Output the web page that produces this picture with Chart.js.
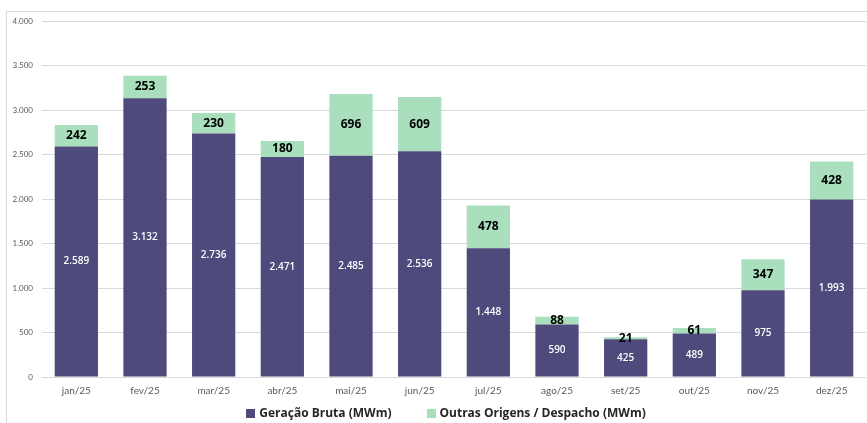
<!DOCTYPE html>
<html lang="pt-BR">
<head>
<meta charset="utf-8">
<title>Geração Bruta e Outras Origens</title>
<script src="https://cdn.jsdelivr.net/npm/chart.js@4.4.1/dist/chart.umd.min.js"></script>
<style>
  html, body { margin: 0; padding: 0; background: #fff; }
  #wrap { position: relative; width: 867px; height: 423px; }
</style>
</head>
<body>
<div id="wrap"><canvas id="chart" width="867" height="423"></canvas></div>
<script>
const months = ["jan/25", "fev/25", "mar/25", "abr/25", "mai/25", "jun/25",
                "jul/25", "ago/25", "set/25", "out/25", "nov/25", "dez/25"]
const geracaoBruta = [2589, 3132, 2736, 2471, 2485, 2536, 1448, 590, 425, 489, 975, 1993]
const outrasOrigens = [242, 253, 230, 180, 696, 609, 478, 88, 21, 61, 347, 428]
const yTicks = [0, 500, 1000, 1500, 2000, 2500, 3000, 3500, 4000]

const FONT = "Lato, 'Open Sans', sans-serif"
const BOLD_FONT = "'Open Sans', 'Noto Sans', sans-serif"

// 1234 -> "1.234"
function fmt(v) {
  return String(Math.round(v)).replace(/\B(?=(\d{3})+(?!\d))/g, ".")
}

// light frame around the chart
const framePlugin = {
  id: "frame",
  beforeDraw(chart) {
    const ctx = chart.ctx
    ctx.save()
    ctx.strokeStyle = "#d9d9d9"
    ctx.lineWidth = 1
    ctx.beginPath()
    ctx.moveTo(6.5, chart.height)
    ctx.lineTo(6.5, 11.5)
    ctx.lineTo(chart.width, 11.5)
    ctx.stroke()
    ctx.restore()
  }
}

// value labels centred on each stacked segment
const segmentLabels = {
  id: "segmentLabels",
  afterDatasetsDraw(chart) {
    const ctx = chart.ctx
    ctx.save()
    ctx.textAlign = "center"
    ctx.textBaseline = "middle"
    chart.data.datasets.forEach((ds, i) => {
      const meta = chart.getDatasetMeta(i)
      meta.data.forEach((bar, j) => {
        const y = (bar.y + bar.base) / 2
        if (i === 0) {
          ctx.fillStyle = "#ffffff"
          ctx.font = "600 10px " + BOLD_FONT
        } else {
          ctx.fillStyle = "#000000"
          ctx.font = "bold 12px " + BOLD_FONT
        }
        ctx.fillText(fmt(ds.data[j]), bar.x, y)
      })
    })
    ctx.restore()
  }
}

// legend row under the axis, with wide gaps between the entries
const bottomLegend = {
  id: "bottomLegend",
  afterDraw(chart) {
    const ctx = chart.ctx
    const box = 9, gap = 4, spacing = 35, y = 413, centre = 446
    ctx.save()
    ctx.font = "bold 12px " + BOLD_FONT
    ctx.textBaseline = "middle"
    const items = chart.data.datasets.map(ds => ({
      text: ds.label,
      color: ds.backgroundColor,
      w: box + gap + ctx.measureText(ds.label).width
    }))
    const total = items.reduce((s, it) => s + it.w, 0) + spacing * (items.length - 1)
    let x = centre - total / 2
    items.forEach(it => {
      ctx.fillStyle = it.color
      ctx.fillRect(Math.round(x), y - 4, box, box)
      ctx.fillStyle = "#262626"
      ctx.fillText(it.text, x + box + gap, y + 1)
      x += it.w + spacing
    })
    ctx.restore()
  }
}

new Chart(document.getElementById("chart"), {
  type: "bar",
  data: {
    labels: months,
    datasets: [
      {
        label: "Geração Bruta (MWm)",
        data: geracaoBruta,
        backgroundColor: "#4e4a7b"
      },
      {
        label: "Outras Origens / Despacho (MWm)",
        data: outrasOrigens,
        backgroundColor: "#a9dfbd"
      }
    ]
  },
  options: {
    responsive: false,
    animation: false,
    layout: { padding: { top: 21, right: 1, bottom: 18, left: 0 } },
    datasets: {
      bar: { categoryPercentage: 1, barPercentage: 0.63 }
    },
    scales: {
      x: {
        stacked: true,
        grid: { display: false, drawTicks: false },
        border: { display: false },
        ticks: { color: "#595959", font: { family: FONT, size: 10 }, padding: 8 }
      },
      y: {
        stacked: true,
        min: 0,
        max: 4000,
        afterBuildTicks(scale) {
          scale.ticks = yTicks.map(v => ({ value: v }))
        },
        afterFit(scale) { scale.width = 42 },
        grid: { color: "#d9d9d9", drawTicks: false },
        border: { display: false },
        ticks: {
          color: "#595959",
          font: { family: FONT, size: 8 },
          padding: 9,
          callback: v => fmt(v)
        }
      }
    },
    plugins: {
      legend: { display: false },
      tooltip: { enabled: false }
    }
  },
  plugins: [framePlugin, segmentLabels, bottomLegend]
})
</script>
</body>
</html>
